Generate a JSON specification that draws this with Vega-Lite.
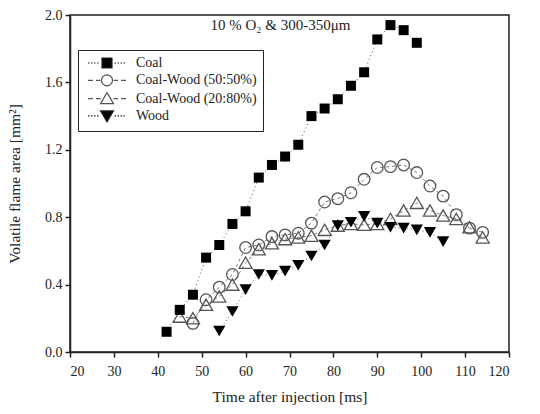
{
  "$schema": "https://vega.github.io/schema/vega-lite/v6.json",
  "width": 439,
  "height": 337,
  "autosize": {"type": "none"},
  "padding": {"left": 70, "top": 15, "right": 31, "bottom": 62},
  "background": "white",
  "config": {
    "font": "Liberation Serif",
    "view": {"stroke": "#222", "strokeWidth": 1.5},
    "axis": {
      "grid": false,
      "domainColor": "#222",
      "domainWidth": 1.5,
      "tickColor": "#222",
      "tickWidth": 1.5,
      "tickSize": 5,
      "labelFont": "Liberation Serif",
      "labelFontSize": 14,
      "labelColor": "#222",
      "titleFont": "Liberation Serif",
      "titleFontSize": 15.5,
      "titleFontWeight": "normal",
      "titleColor": "#222"
    }
  },
  "title": {
    "text": "10 % O₂ & 300-350μm",
    "font": "Liberation Serif",
    "fontSize": 15,
    "fontWeight": "normal",
    "color": "#222",
    "anchor": "middle",
    "frame": "group",
    "dx": -9,
    "dy": 37,
    "offset": 0,
    "baseline": "alphabetic"
  },
  "data": {
    "values": [
      {"s": "Coal", "t": 42, "a": 0.12},
      {"s": "Coal", "t": 45, "a": 0.25},
      {"s": "Coal", "t": 48, "a": 0.34},
      {"s": "Coal", "t": 51, "a": 0.56},
      {"s": "Coal", "t": 54, "a": 0.635},
      {"s": "Coal", "t": 57, "a": 0.76},
      {"s": "Coal", "t": 60, "a": 0.835},
      {"s": "Coal", "t": 63, "a": 1.035},
      {"s": "Coal", "t": 66, "a": 1.11},
      {"s": "Coal", "t": 69, "a": 1.16},
      {"s": "Coal", "t": 72, "a": 1.23},
      {"s": "Coal", "t": 75, "a": 1.40},
      {"s": "Coal", "t": 78, "a": 1.445},
      {"s": "Coal", "t": 81, "a": 1.50},
      {"s": "Coal", "t": 84, "a": 1.58},
      {"s": "Coal", "t": 87, "a": 1.66},
      {"s": "Coal", "t": 90, "a": 1.855},
      {"s": "Coal", "t": 93, "a": 1.94},
      {"s": "Coal", "t": 96, "a": 1.91},
      {"s": "Coal", "t": 99, "a": 1.835},
      {"s": "Coal-Wood (50:50%)", "t": 48, "a": 0.17},
      {"s": "Coal-Wood (50:50%)", "t": 51, "a": 0.31},
      {"s": "Coal-Wood (50:50%)", "t": 54, "a": 0.385},
      {"s": "Coal-Wood (50:50%)", "t": 57, "a": 0.46},
      {"s": "Coal-Wood (50:50%)", "t": 60, "a": 0.62},
      {"s": "Coal-Wood (50:50%)", "t": 63, "a": 0.635},
      {"s": "Coal-Wood (50:50%)", "t": 66, "a": 0.685},
      {"s": "Coal-Wood (50:50%)", "t": 69, "a": 0.695},
      {"s": "Coal-Wood (50:50%)", "t": 72, "a": 0.705},
      {"s": "Coal-Wood (50:50%)", "t": 75, "a": 0.765},
      {"s": "Coal-Wood (50:50%)", "t": 78, "a": 0.89},
      {"s": "Coal-Wood (50:50%)", "t": 81, "a": 0.91},
      {"s": "Coal-Wood (50:50%)", "t": 84, "a": 0.945},
      {"s": "Coal-Wood (50:50%)", "t": 87, "a": 1.025},
      {"s": "Coal-Wood (50:50%)", "t": 90, "a": 1.095},
      {"s": "Coal-Wood (50:50%)", "t": 93, "a": 1.10},
      {"s": "Coal-Wood (50:50%)", "t": 96, "a": 1.11},
      {"s": "Coal-Wood (50:50%)", "t": 99, "a": 1.065},
      {"s": "Coal-Wood (50:50%)", "t": 102, "a": 0.985},
      {"s": "Coal-Wood (50:50%)", "t": 105, "a": 0.925},
      {"s": "Coal-Wood (50:50%)", "t": 108, "a": 0.815},
      {"s": "Coal-Wood (50:50%)", "t": 111, "a": 0.735},
      {"s": "Coal-Wood (50:50%)", "t": 114, "a": 0.71},
      {"s": "Coal-Wood (20:80%)", "t": 45, "a": 0.21},
      {"s": "Coal-Wood (20:80%)", "t": 48, "a": 0.20},
      {"s": "Coal-Wood (20:80%)", "t": 51, "a": 0.28},
      {"s": "Coal-Wood (20:80%)", "t": 54, "a": 0.33},
      {"s": "Coal-Wood (20:80%)", "t": 57, "a": 0.40},
      {"s": "Coal-Wood (20:80%)", "t": 60, "a": 0.53},
      {"s": "Coal-Wood (20:80%)", "t": 63, "a": 0.61},
      {"s": "Coal-Wood (20:80%)", "t": 66, "a": 0.645},
      {"s": "Coal-Wood (20:80%)", "t": 69, "a": 0.67},
      {"s": "Coal-Wood (20:80%)", "t": 72, "a": 0.68},
      {"s": "Coal-Wood (20:80%)", "t": 75, "a": 0.69},
      {"s": "Coal-Wood (20:80%)", "t": 78, "a": 0.725},
      {"s": "Coal-Wood (20:80%)", "t": 81, "a": 0.75},
      {"s": "Coal-Wood (20:80%)", "t": 84, "a": 0.76},
      {"s": "Coal-Wood (20:80%)", "t": 87, "a": 0.755},
      {"s": "Coal-Wood (20:80%)", "t": 90, "a": 0.76},
      {"s": "Coal-Wood (20:80%)", "t": 93, "a": 0.79},
      {"s": "Coal-Wood (20:80%)", "t": 96, "a": 0.84},
      {"s": "Coal-Wood (20:80%)", "t": 99, "a": 0.885},
      {"s": "Coal-Wood (20:80%)", "t": 102, "a": 0.84},
      {"s": "Coal-Wood (20:80%)", "t": 105, "a": 0.81},
      {"s": "Coal-Wood (20:80%)", "t": 108, "a": 0.79},
      {"s": "Coal-Wood (20:80%)", "t": 111, "a": 0.74},
      {"s": "Coal-Wood (20:80%)", "t": 114, "a": 0.68},
      {"s": "Wood", "t": 54, "a": 0.125},
      {"s": "Wood", "t": 57, "a": 0.24},
      {"s": "Wood", "t": 60, "a": 0.37},
      {"s": "Wood", "t": 63, "a": 0.46},
      {"s": "Wood", "t": 66, "a": 0.455},
      {"s": "Wood", "t": 69, "a": 0.48},
      {"s": "Wood", "t": 72, "a": 0.515},
      {"s": "Wood", "t": 75, "a": 0.57},
      {"s": "Wood", "t": 78, "a": 0.635},
      {"s": "Wood", "t": 81, "a": 0.75},
      {"s": "Wood", "t": 84, "a": 0.77},
      {"s": "Wood", "t": 87, "a": 0.805},
      {"s": "Wood", "t": 90, "a": 0.765},
      {"s": "Wood", "t": 93, "a": 0.74},
      {"s": "Wood", "t": 96, "a": 0.735},
      {"s": "Wood", "t": 99, "a": 0.725},
      {"s": "Wood", "t": 102, "a": 0.71},
      {"s": "Wood", "t": 105, "a": 0.655}
    ]
  },
  "encoding": {
    "x": {
      "field": "t",
      "type": "quantitative",
      "scale": {"domain": [20, 120], "nice": false, "zero": false},
      "axis": {"values": [20, 30, 40, 50, 60, 70, 80, 90, 100, 110, 120], "title": "Time after injection [ms]", "labelPadding": 7, "titlePadding": 11}
    },
    "y": {
      "field": "a",
      "type": "quantitative",
      "scale": {"domain": [0, 2], "nice": false},
      "axis": {"values": [0, 0.4, 0.8, 1.2, 1.6, 2.0], "format": ".1f", "title": "Volatile flame area [mm²]", "labelPadding": 3, "titlePadding": 22}
    }
  },
  "layer": [
    {
      "transform": [{"filter": "datum.s === 'Coal'"}],
      "mark": {"type": "line", "strokeWidth": 1, "color": "#555", "strokeDash": [1, 3]}
    },
    {
      "transform": [{"filter": "datum.s === 'Wood'"}],
      "mark": {"type": "line", "strokeWidth": 1, "color": "#555", "strokeDash": [1, 3]}
    },
    {
      "transform": [{"filter": "datum.s === 'Coal-Wood (50:50%)'"}],
      "mark": {"type": "line", "strokeWidth": 1, "color": "#777", "strokeDash": [3, 3]}
    },
    {
      "transform": [{"filter": "datum.s === 'Coal-Wood (20:80%)'"}],
      "mark": {"type": "line", "strokeWidth": 1, "color": "#777", "strokeDash": [3, 3]}
    },
    {
      "transform": [{"filter": "datum.s === 'Coal-Wood (20:80%)'"}],
      "mark": {"type": "point", "shape": "triangle-up", "filled": false, "color": "#555", "strokeWidth": 1.3, "size": 170, "opacity": 1}
    },
    {
      "transform": [{"filter": "datum.s === 'Coal-Wood (50:50%)'"}],
      "mark": {"type": "point", "shape": "circle", "filled": false, "color": "#555", "strokeWidth": 1.3, "size": 135, "opacity": 1}
    },
    {
      "transform": [{"filter": "datum.s === 'Coal'"}],
      "mark": {"type": "point", "shape": "square", "filled": true, "color": "#000", "size": 100, "opacity": 1}
    },
    {
      "transform": [{"filter": "datum.s === 'Wood'"}],
      "mark": {"type": "point", "shape": "triangle-down", "filled": true, "color": "#000", "size": 150, "opacity": 1}
    },
    {
      "mark": {"type": "point", "opacity": 0, "strokeWidth": 1},
      "encoding": {
        "shape": {
          "field": "s",
          "type": "nominal",
          "scale": {
            "domain": ["Coal", "Coal-Wood (50:50%)", "Coal-Wood (20:80%)", "Wood"],
            "range": [
              "M-3.8,0h0.3M-3.2,0h0.3M-2.6,0h0.3M-2,0h0.3M-1,-1h2v2h-2zM1.5,0h0.3M2.1,0h0.3M2.7,0h0.3M3.3,0h0.3",
              "M-3.8,0h1M-2.2,0h0.9M1.3,0h0.9M2.8,0h1M1.1,0L1.016,0.421L0.778,0.778L0.421,1.016L0,1.1L-0.421,1.016L-0.778,0.778L-1.016,0.421L-1.1,0L-1.016,-0.421L-0.778,-0.778L-0.421,-1.016L0,-1.1L0.421,-1.016L0.778,-0.778L1.016,-0.421Z",
              "M-3.8,0h1M-2.2,0h0.9M1.3,0h0.9M2.8,0h1M0,-1.2L1.3,1L-1.3,1Z",
              "M-3.8,0h0.3M-3.2,0h0.3M-2.6,0h0.3M-2,0h0.3M0,1.2L1.3,-1L-1.3,-1ZM1.5,0h0.3M2.1,0h0.3M2.7,0h0.3M3.3,0h0.3"
            ]
          },
          "legend": {
            "title": null,
            "orient": "none",
            "legendX": 8,
            "legendY": 35,
            "strokeColor": "#222",
            "fillColor": "white",
            "padding": 6,
            "symbolSize": 100,
            "symbolOpacity": 1,
            "symbolStrokeWidth": 1.2,
            "symbolOffset": 16,
            "labelOffset": 22,
            "labelFont": "Liberation Serif",
            "labelFontSize": 14,
            "labelColor": "#222",
            "rowPadding": 1.3,
            "labelLimit": 300
          }
        },
        "fill": {
          "field": "s",
          "type": "nominal",
          "scale": {"domain": ["Coal", "Coal-Wood (50:50%)", "Coal-Wood (20:80%)", "Wood"], "range": ["#000", "#fff", "#fff", "#000"]},
          "legend": {"title": null}
        },
        "stroke": {
          "field": "s",
          "type": "nominal",
          "scale": {"domain": ["Coal", "Coal-Wood (50:50%)", "Coal-Wood (20:80%)", "Wood"], "range": ["#222", "#555", "#555", "#222"]},
          "legend": {"title": null}
        }
      }
    }
  ]
}
